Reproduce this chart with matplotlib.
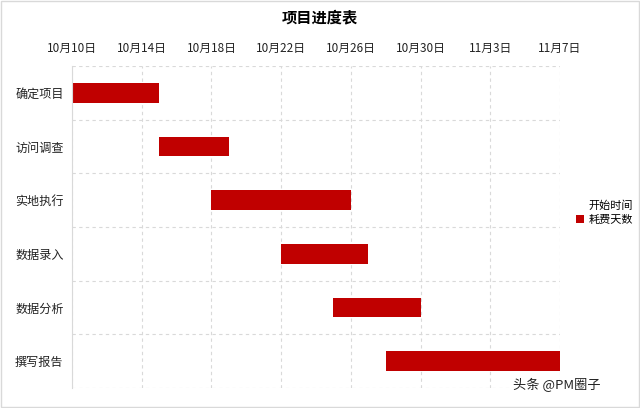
import matplotlib
matplotlib.use("Agg")
import matplotlib.pyplot as plt
from matplotlib.patches import Patch
import datetime as dt

plt.rcParams['font.family'] = ['Noto Sans CJK SC', 'DejaVu Sans']

tasks = ["确定项目", "访问调查", "实地执行", "数据录入", "数据分析", "撰写报告"]
starts = ["10-10", "10-15", "10-18", "10-22", "10-25", "10-28"]
durations = [5, 4, 8, 5, 5, 10]
tick_dates = ["10-10", "10-14", "10-18", "10-22", "10-26", "10-30", "11-03", "11-07"]
tick_labels = ["10月10日", "10月14日", "10月18日", "10月22日", "10月26日", "10月30日", "11月3日", "11月7日"]

base = dt.date(2020, 10, 10)
def day(s):
    m, d = s.split("-")
    return (dt.date(2020, int(m), int(d)) - base).days

start_days = [day(s) for s in starts]
tick_days = [day(s) for s in tick_dates]

fig = plt.figure(figsize=(6.4, 4.08), dpi=100)
ax = fig.add_axes([0.1125, 0.049, 0.7625, 0.789])

ypos = list(range(len(tasks)))
ax.barh(ypos, start_days, height=0.37, color='none', label="开始时间")
ax.barh(ypos, durations, left=start_days, height=0.37, color='#C00000', label="耗费天数")

ax.set_ylim(len(tasks) - 0.5, -0.5)
ax.set_yticks(ypos)
ax.set_yticklabels(tasks, fontsize=8.7, color='#222222')
ax.set_yticks([i + 0.5 for i in range(-1, len(tasks))], minor=True)

ax.set_xlim(0, 28)
ax.xaxis.tick_top()
ax.set_xticks(tick_days)
ax.set_xticklabels(tick_labels, fontsize=8.5, color='#222222')

ax.tick_params(axis='both', which='both', length=0)
ax.tick_params(axis='y', pad=6)
ax.tick_params(axis='x', pad=8)
ax.grid(axis='x', which='major', color='#D9D9D9', linestyle=(0, (3, 3)), linewidth=0.8)
ax.grid(axis='y', which='minor', color='#D9D9D9', linestyle=(0, (3, 3)), linewidth=0.8)
ax.grid(axis='y', which='major', visible=False)
ax.set_axisbelow(True)
for side in ['top', 'right', 'bottom']:
    ax.spines[side].set_visible(False)
ax.spines['left'].set_color('#D9D9D9')

fig.suptitle("项目进度表", fontsize=11, fontweight='bold', y=0.978)

handles = [Patch(facecolor='none', edgecolor='none'), Patch(facecolor='#C00000')]
fig.legend(handles, ["开始时间", "耗费天数"], loc='center left', bbox_to_anchor=(0.9, 0.478),
           frameon=False, fontsize=8, handlelength=0.7, handleheight=0.7, handletextpad=0.4,
           labelspacing=0.35, borderpad=0, borderaxespad=0)

fig.text(0.802, 0.056, "头条 @PM圈子", fontsize=9.5, color='#222222', va='center')

border = plt.Rectangle((0.002, 0.002), 0.996, 0.996, transform=fig.transFigure, fill=False,
                       edgecolor='#D9D9D9', linewidth=1)
fig.patches.append(border)

fig.savefig("out.png", dpi=100)
